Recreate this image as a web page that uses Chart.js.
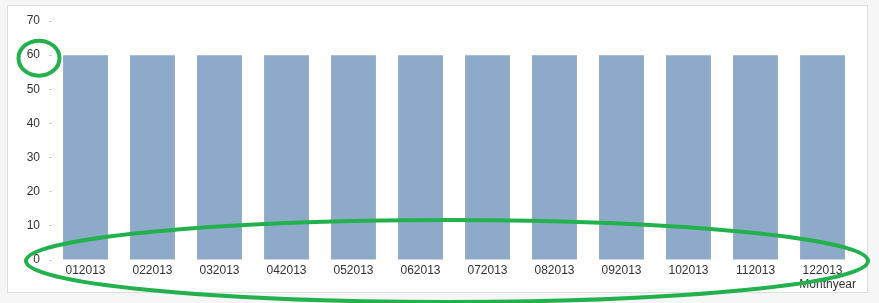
<!DOCTYPE html>
<html>
<head>
<meta charset="utf-8">
<script src="https://cdn.jsdelivr.net/npm/chart.js@4"></script>
<style>
  html, body { margin: 0; padding: 0; background: #f6f6f6; }
  #wrap { width: 879px; height: 303px; position: relative; }
</style>
</head>
<body>
<div id="wrap"><canvas id="chart"></canvas></div>
<script>
const categories = ["012013", "022013", "032013", "042013", "052013", "062013",
                    "072013", "082013", "092013", "102013", "112013", "122013"];
const values = [60, 60, 60, 60, 60, 60, 60, 60, 60, 60, 60, 60];
const yTicks = [0, 10, 20, 30, 40, 50, 60, 70];

// white panel behind the chart, green marker rings on top
const panel = {
    id: "panel",
    beforeDraw(chart) {
        const ctx = chart.ctx;
        ctx.save();
        ctx.fillStyle = "#ffffff";
        ctx.fillRect(8, 6, 859, 286);
        ctx.strokeStyle = "#dedede";
        ctx.lineWidth = 1;
        ctx.strokeRect(7.5, 5.5, 860, 287);
        ctx.restore();
    },
    afterDraw(chart) {
        const ctx = chart.ctx;
        const y = chart.scales.y;
        const area = chart.chartArea;
        ctx.save();
        ctx.strokeStyle = "#22b14c";
        ctx.lineWidth = 4;
        ctx.beginPath();
        ctx.ellipse(39, y.getPixelForValue(60) + 3, 20.5, 17.5, 0, 0, Math.PI * 2);
        ctx.stroke();
        ctx.beginPath();
        ctx.ellipse((area.left + area.right) / 2 - 7, area.bottom + 1, 421, 41, 0, 0, Math.PI * 2);
        ctx.stroke();
        ctx.restore();
    }
};

Chart.defaults.font.family = "'Liberation Sans', Arial, sans-serif";
Chart.defaults.font.size = 12;
Chart.defaults.color = "#333333";

window.myChart = new Chart(document.getElementById("chart").getContext("2d"), {
    type: "bar",
    data: {
        labels: categories,
        datasets: [{
            label: "Monthyear",
            data: values,
            backgroundColor: "#8eaac9",
            categoryPercentage: 1,
            barPercentage: 0.67
        }]
    },
    options: {
        responsive: true,
        maintainAspectRatio: false,
        animation: false,
        layout: { padding: { top: 21, right: 23, bottom: 0, left: 0 } },
        plugins: {
            legend: { display: false },
            tooltip: { enabled: false }
        },
        scales: {
            x: {
                grid: { display: false, drawTicks: false, tickLength: 0 },
                border: { display: false },
                ticks: { padding: 3, maxRotation: 0, autoSkip: false },
                title: {
                    display: true,
                    text: "Monthyear",
                    align: "end",
                    padding: { top: 0, bottom: 11 }
                },
                afterFit(scale) { scale.height = 43; }
            },
            y: {
                min: 0,
                max: 70,
                afterBuildTicks(scale) { scale.ticks = yTicks.map(v => ({ value: v })); },
                grid: { drawOnChartArea: false, tickLength: 3, tickColor: "#cccccc" },
                border: { display: false },
                ticks: { padding: 9 },
                afterFit(scale) { scale.width = 52; }
            }
        }
    },
    plugins: [panel]
});
</script>
</body>
</html>
